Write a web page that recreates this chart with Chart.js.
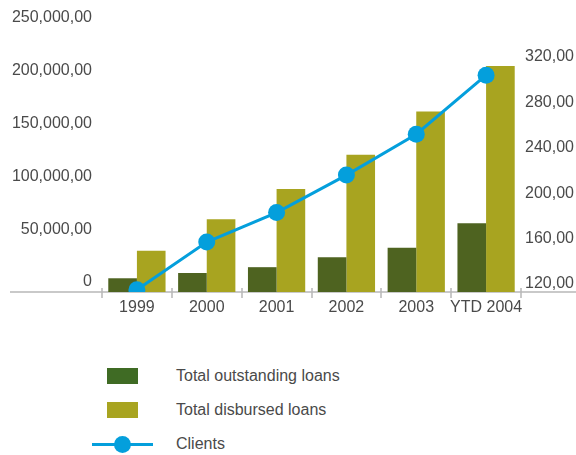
<!DOCTYPE html>
<html>
<head>
<meta charset="utf-8">
<script src="https://cdn.jsdelivr.net/npm/chart.js@4/dist/chart.umd.min.js"></script>
<style>
  body { margin: 0; background: #fff; font-family: "Liberation Sans", Arial, sans-serif; color: #4a4a4a; }
  #wrap { position: relative; width: 576px; height: 455px; overflow: hidden; }
  #chart { position: absolute; left: 0; top: 0; }
  #legend { position: absolute; left: 92px; top: 359px; }
  .row { display: flex; align-items: center; height: 34px; font-size: 16px; }
  .sw { position: relative; width: 61px; height: 20px; margin-right: 23px; }
  .sw .box { position: absolute; left: 15px; top: 2px; width: 31px; height: 16px; }
  .sw .ln { position: absolute; left: 0; top: 8.5px; width: 61px; height: 3px; }
  .sw .dot { position: absolute; left: 22px; top: 2px; width: 17px; height: 17px; border-radius: 50%; }
</style>
</head>
<body>
<div id="wrap">
  <canvas id="chart" width="576" height="330"></canvas>
  <div id="legend"></div>
</div>
<script>
// chart data
var YEARS = ['1999', '2000', '2001', '2002', '2003', 'YTD 2004'];
var OUTSTANDING = [13000, 18000, 23500, 33000, 42000, 65000];
var DISBURSED = [39000, 69000, 97500, 130000, 171000, 214000];
var CLIENTS = [122, 164, 190, 223, 259, 311];
var LEFT_TICKS = [0, 50000, 100000, 150000, 200000, 250000];
var RIGHT_TICKS = [120, 160, 200, 240, 280, 320];

var DARK = '#4e6320';
var DARK_KEY = '#3f6b24';   // legend swatch is a bit greener than the bars
var OLIVE = '#a8a420';
var BLUE = '#049fdc';
var TEXT = '#4a4a4a';
var AXIS = '#b8b8b8';
var FONT = { family: '"Liberation Sans", Arial, sans-serif', size: 16 };

function fmtLeft(v) {
  return v === 0 ? '0' : v.toLocaleString('en-US') + ',00';
}
function fmtRight(v) {
  return v + ',00';
}

// long base line under the bars + small ticks between the categories
var baseLine = {
  id: 'baseLine',
  beforeDatasetsDraw: function(chart) {
    var c = chart.ctx, y = chart.chartArea.bottom;
    var xs = chart.scales.x;
    c.save();
    c.strokeStyle = AXIS;
    c.lineWidth = 1.5;
    c.beginPath();
    c.moveTo(10, y);
    c.lineTo(chart.width, y);
    for (var i = 0; i <= YEARS.length; i++) {
      var px = Math.round(xs.getPixelForValue(i - 0.5));
      c.moveTo(px, y - 4);
      c.lineTo(px, y + 6);
    }
    c.stroke();
    c.restore();
  }
};

var chart = new Chart(document.getElementById('chart'), {
  type: 'bar',
  data: {
    labels: YEARS,
    datasets: [
      { label: 'Total outstanding loans', data: OUTSTANDING, backgroundColor: DARK, keyColor: DARK_KEY,
        yAxisID: 'y', order: 1, categoryPercentage: 0.82, barPercentage: 1 },
      { label: 'Total disbursed loans', data: DISBURSED, backgroundColor: OLIVE, keyColor: OLIVE,
        yAxisID: 'y', order: 1, categoryPercentage: 0.82, barPercentage: 1 },
      { type: 'line', label: 'Clients', data: CLIENTS, yAxisID: 'y1', order: 0,
        borderColor: BLUE, backgroundColor: BLUE, borderWidth: 3, pointRadius: 8.5,
        pointBorderWidth: 0, pointBackgroundColor: BLUE, tension: 0 }
    ]
  },
  options: {
    responsive: false,
    animation: false,
    devicePixelRatio: 1,
    layout: { padding: { top: 28, left: 0, right: 0, bottom: 0 } },
    plugins: { legend: { display: false }, tooltip: { enabled: false } },
    scales: {
      x: {
        grid: { display: false, drawTicks: false },
        border: { display: false },
        ticks: { color: TEXT, font: FONT, padding: 6, maxRotation: 0, autoSkip: false },
        afterFit: function(s) { s.height = 38; }
      },
      y: {
        position: 'left',
        min: 0, max: 250000,
        grid: { display: false, drawTicks: false },
        border: { display: false },
        afterBuildTicks: function(s) { s.ticks = LEFT_TICKS.map(function(v) { return { value: v }; }); },
        ticks: { color: TEXT, font: FONT, padding: 10, labelOffset: -10, callback: fmtLeft },
        afterFit: function(s) { s.width = 102; }
      },
      y1: {
        position: 'right',
        min: 120, max: 352.6,
        grid: { display: false, drawTicks: false },
        border: { display: false },
        afterBuildTicks: function(s) { s.ticks = RIGHT_TICKS.map(function(v) { return { value: v }; }); },
        ticks: { color: TEXT, font: FONT, padding: 4, labelOffset: -8, callback: fmtRight },
        afterFit: function(s) { s.width = 55; }
      }
    }
  },
  plugins: [baseLine]
});

// html legend built from the datasets
var legend = document.getElementById('legend');
chart.data.datasets.forEach(function(ds) {
  var sw;
  if (ds.type === 'line') {
    sw = '<div class="sw"><div class="ln" style="background:' + ds.borderColor + '"></div>' +
         '<div class="dot" style="background:' + ds.borderColor + '"></div></div>';
  } else {
    sw = '<div class="sw"><div class="box" style="background:' + ds.keyColor + '"></div></div>';
  }
  legend.innerHTML += '<div class="row">' + sw + '<span>' + ds.label + '</span></div>';
});
</script>
</body>
</html>
